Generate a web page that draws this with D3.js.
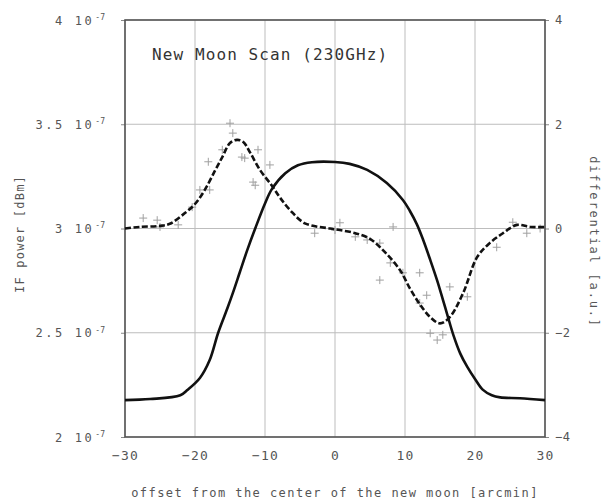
<!DOCTYPE html>
<html><head><meta charset="utf-8">
<script src="https://cdn.jsdelivr.net/npm/d3@7"></script>
<style>body{margin:0;background:#fff}svg{display:block}</style>
</head><body>
<script>
// IF power scan (left axis, units of 1e-7)
const powerX = [-30,-26.4,-22.1,-21.1,-19.3,-17.9,-16.7,-15.4,-14.6,-13.6,-12.6,-11.4,-10,-9,-7.1,-5.3,-3.3,0,2.1,4.6,7.4,9.7,10.7,11.7,12.6,13.6,14.6,15.4,16.1,16.9,17.9,18.9,20,21.1,22.4,23.6,26.4,30];
const powerV = [2.177,2.182,2.20,2.225,2.283,2.369,2.499,2.615,2.69,2.79,2.89,3.0,3.12,3.19,3.265,3.303,3.318,3.319,3.31,3.281,3.218,3.137,3.084,3.02,2.945,2.85,2.75,2.66,2.58,2.49,2.40,2.336,2.278,2.227,2.20,2.19,2.186,2.177];
// differential fit (right axis)
const diffX = [-30,-27.9,-25,-23.6,-21.4,-20,-18.6,-17.1,-16.1,-15,-14,-13.1,-12.1,-10.7,-9,-7.9,-6.4,-4.3,-0.7,0.7,2.9,5,7.1,9.3,10.7,12.1,13.6,15,16.4,18.3,20.3,22.1,24,26,27.9,30];
const diffV = [0,0.03,0.05,0.09,0.30,0.47,0.74,1.12,1.37,1.64,1.70,1.66,1.45,1.12,0.82,0.60,0.35,0.10,0,-0.03,-0.09,-0.2,-0.45,-0.8,-1.15,-1.45,-1.70,-1.82,-1.70,-1.24,-0.55,-0.28,-0.09,0.07,0.03,0.03];
// differential measured points
const crossX = [-27.4,-25.4,-25,-22.4,-20.4,-19.3,-18.1,-17.9,-16.1,-15,-14.6,-13.3,-12.9,-11.7,-11.4,-11,-9.3,-2.9,0,0.7,2.9,4.6,6.4,7.9,8.3,6.4,9.7,12.1,13.1,12.1,16.4,18.9,13.6,14.6,15.4,23.1,25.4,27.4,29.3];
const crossV = [0.20,0.16,0.03,0.07,0.41,0.74,1.28,0.74,1.51,2.02,1.83,1.37,1.35,0.89,0.83,1.51,1.22,-0.09,-0.03,0.11,-0.16,-0.22,-0.28,-0.66,0.03,-0.99,-0.85,-0.85,-1.28,-1.43,-1.12,-1.31,-2.01,-2.14,-2.04,-0.36,0.12,-0.09,0];
const xTicks = [-30,-20,-10,0,10,20,30];
const leftTicks = [2,2.5,3,3.5,4];
const leftTickText = ["2","2.5","3","3.5","4"];
const rightTicks = [-4,-2,0,2,4];
const titleText = "New Moon Scan (230GHz)";
const xTitle = "offset from the center of the new moon [arcmin]";
const yTitle = "IF power [dBm]";
const y2Title = "differential [a.u.]";

const W=603,H=504;
const m={l:125,r:545,t:20,b:437};
const svg=d3.select("body").append("svg").attr("width",W).attr("height",H);
const x=d3.scaleLinear().domain([-30,30]).range([m.l,m.r]);
const y=d3.scaleLinear().domain([2,4]).range([m.b,m.t]);
const y2=d3.scaleLinear().domain([-4,4]).range([m.b,m.t]);
const mono="'DejaVu Sans Mono', monospace";

// grid
const g=svg.append("g");
g.selectAll(".vx").data(xTicks).join("line").attr("x1",d=>x(d)).attr("x2",d=>x(d)).attr("y1",m.t).attr("y2",m.b).attr("stroke","#bdbdbd").attr("stroke-width",1);
g.selectAll(".hy").data(leftTicks).join("line").attr("y1",d=>y(d)).attr("y2",d=>y(d)).attr("x1",m.l).attr("x2",m.r).attr("stroke","#bdbdbd").attr("stroke-width",1);

// axes via d3
const fontAttrs=sel=>sel.selectAll("text").attr("font-family",mono).attr("font-size",12).attr("letter-spacing","2.6px").attr("fill","#555");
const xa=svg.append("g").attr("transform",`translate(0,${m.b})`).call(d3.axisBottom(x).tickValues(xTicks).tickSize(0).tickPadding(14).tickFormat(d=>d<0?"\u2212"+(-d):String(d)));
xa.select(".domain").remove(); fontAttrs(xa);
xa.selectAll("text").attr("letter-spacing","1.2px").attr("font-size",13);
const ya=svg.append("g").attr("transform",`translate(${m.l},0)`).call(d3.axisLeft(y).tickValues(leftTicks).tickSize(4).tickPadding(8).tickFormat((d,i)=>leftTickText[i]+" 10"));
ya.select(".domain").remove(); fontAttrs(ya);
ya.selectAll(".tick line").attr("stroke","#888");
ya.selectAll("text").attr("dx","-8").attr("dy","0.35em").append("tspan").attr("font-size",8).attr("dy","-0.6em").attr("letter-spacing","0px").attr("dx","1").text("-7");
const y2a=svg.append("g").attr("transform",`translate(${m.r},0)`).call(d3.axisRight(y2).tickValues(rightTicks).tickSize(4).tickPadding(6).tickFormat(d=>d<0?"\u2212"+(-d):String(d)));
y2a.select(".domain").remove(); fontAttrs(y2a);
y2a.selectAll(".tick line").attr("stroke","#888");
y2a.selectAll("text").attr("letter-spacing","0.5px").attr("font-size",12);

// frame
svg.append("rect").attr("x",m.l).attr("y",m.t).attr("width",m.r-m.l).attr("height",m.b-m.t).attr("fill","none").attr("stroke","#555").attr("stroke-width",1.6);

// crosses
const cs=4;
svg.append("g").selectAll("path").data(crossX.map((d,i)=>[d,crossV[i]])).join("path")
  .attr("d",d=>`M${x(d[0])-cs},${y2(d[1])}h${2*cs}M${x(d[0])},${y2(d[1])-cs}v${2*cs}`)
  .attr("stroke","#a0a0a0").attr("stroke-width",1).attr("fill","none");

// differential line
const ld=d3.line().x(d=>x(d[0])).y(d=>y2(d[1])).curve(d3.curveCatmullRom.alpha(0.5));
svg.append("path").datum(diffX.map((d,i)=>[d,diffV[i]])).attr("d",ld).attr("fill","none").attr("stroke","#111").attr("stroke-width",2.6).attr("stroke-dasharray","6,2.5");
// power line
const lp=d3.line().x(d=>x(d[0])).y(d=>y(d[1])).curve(d3.curveCatmullRom.alpha(0.5));
svg.append("path").datum(powerX.map((d,i)=>[d,powerV[i]])).attr("d",lp).attr("fill","none").attr("stroke","#111").attr("stroke-width",2.6);

// titles
svg.append("text").attr("x",152).attr("y",60).attr("font-family",mono).attr("font-size",16).attr("letter-spacing","1.1px").attr("fill","#333").text(titleText);
svg.append("text").attr("x",(m.l+m.r)/2).attr("y",497).attr("text-anchor","middle").attr("font-family",mono).attr("font-size",12).attr("letter-spacing","1.45px").attr("fill","#555").text(xTitle);
svg.append("text").attr("transform","translate(24,234) rotate(-90)").attr("text-anchor","middle").attr("font-family",mono).attr("font-size",12).attr("letter-spacing","1.2px").attr("fill","#555").text(yTitle);
svg.append("text").attr("transform","translate(590,242) rotate(90)").attr("text-anchor","middle").attr("font-family",mono).attr("font-size",12).attr("letter-spacing","1.8px").attr("fill","#555").text(y2Title);
</script>
</body></html>
